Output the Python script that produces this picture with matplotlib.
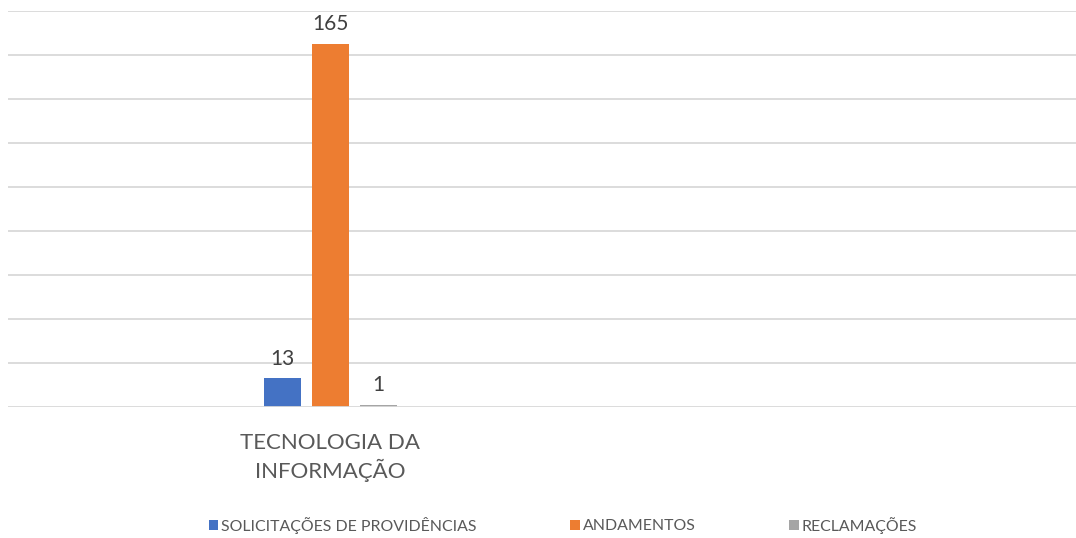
import matplotlib
matplotlib.use("Agg")
import matplotlib.pyplot as plt
from matplotlib.patches import Patch

categories = ["TECNOLOGIA DA\nINFORMAÇÃO"]
series_names = ["SOLICITAÇÕES DE PROVIDÊNCIAS", "ANDAMENTOS", "RECLAMAÇÕES"]
solicitacoes = [13]
andamentos = [165]
reclamacoes = [1]
series_values = [solicitacoes, andamentos, reclamacoes]
colors = ["#4472C4", "#ED7D31", "#A5A5A5"]
y_max = 180
y_step = 20

plt.rcParams['font.family'] = ['Lato', 'DejaVu Sans']

W, H = 1076, 538
fig = plt.figure(figsize=(W / 100, H / 100), dpi=100)
left_px, right_px, top_px, base_px = 8, 1076, 11, 407
ax = fig.add_axes([left_px / W, (H - base_px) / H, (right_px - left_px) / W, (base_px - top_px) / H])

center_px = 330
ax.set_xlim(left_px - center_px, right_px - center_px)
ax.set_ylim(0, y_max)

bar_w = 37
offset = 48
for i, (name, vals, c) in enumerate(zip(series_names, series_values, colors)):
    xs = [k * 600 + (i - 1) * offset for k in range(len(vals))]
    bars = ax.bar(xs, vals, width=bar_w, color=c, label=name, zorder=3)
    for b, v in zip(bars, vals):
        ax.annotate(str(v), (b.get_x() + b.get_width() / 2, v), xytext=(0, 7),
                    textcoords="offset points", ha="center", va="bottom",
                    fontsize=15, color="#404040")

for y in range(y_step, y_max + 1, y_step):
    ax.axhline(y, color="#D9D9D9", lw=1.3, zorder=1)
ax.axhline(0, color="#D9D9D9", lw=1.3, zorder=4)

for s in ax.spines.values():
    s.set_visible(False)
ax.set_yticks([])
ax.set_xticks([k * 600 for k in range(len(categories))])
ax.set_xticklabels(categories, fontsize=16, color="#595959", linespacing=1.3)
ax.tick_params(axis="x", length=0, pad=19)

handles = [Patch(facecolor=c, edgecolor="none") for c in colors]
fig.legend(handles, series_names, loc="center", bbox_to_anchor=(563 / W, 1 - 525 / H),
           ncol=3, frameon=False, fontsize=11.4, labelcolor="#595959",
           handlelength=0.6, handleheight=0.6, handletextpad=0.2, columnspacing=5.9)

fig.savefig("out.png", dpi=100, facecolor="white")
